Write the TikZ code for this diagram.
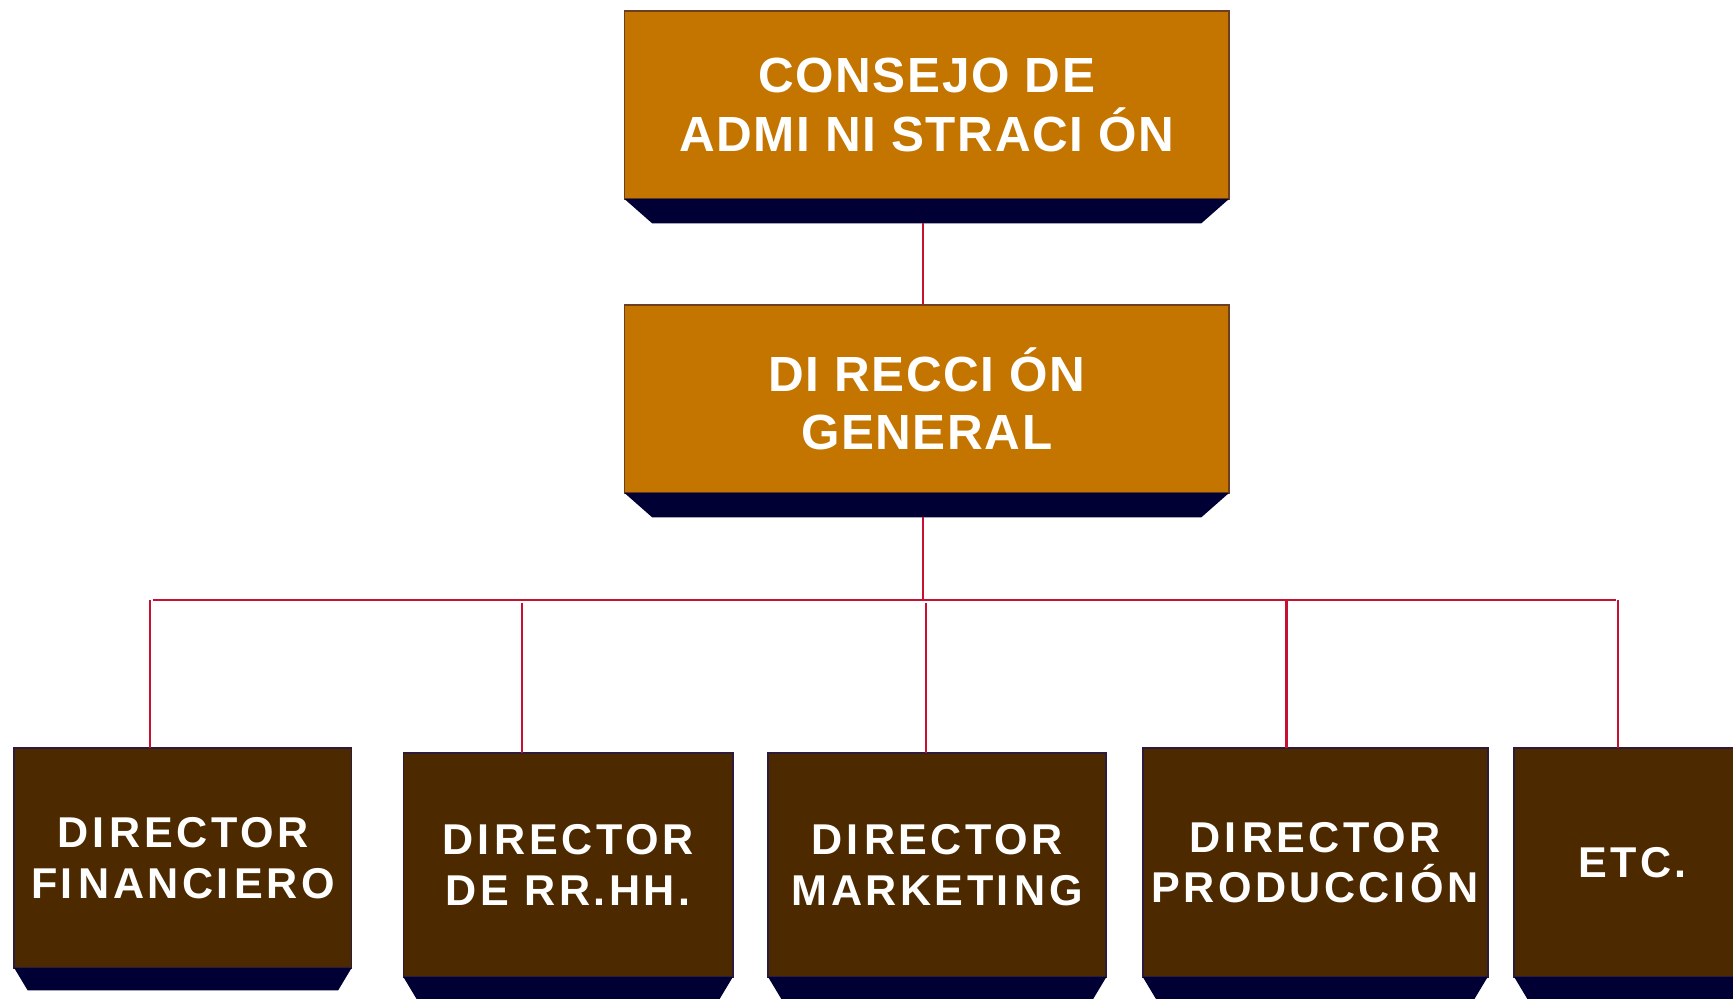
\documentclass[tikz,border=0pt]{standalone}
\usepackage{fontspec}
\newfontfamily\topfont[LetterSpace=3.3]{Liberation Sans}
\newfontfamily\lowfont[LetterSpace=8]{Liberation Sans}
\usetikzlibrary{calc}
\definecolor{topfill}{RGB}{196,117,0}
\definecolor{topedge}{RGB}{110,62,32}
\definecolor{lowfill}{RGB}{77,41,0}
\definecolor{lowedge}{RGB}{46,26,58}
\definecolor{shade}{RGB}{0,0,52}
\definecolor{conncol}{RGB}{200,16,50}
\newcommand{\Ik}{I\kern13.5pt}
\newcommand{\Il}{I\kern5pt}
\tikzset{
  topbox/.style={draw=topedge, line width=1.6pt, fill=topfill, rectangle, inner sep=0pt, outer sep=0pt,
    minimum width=547pt, minimum height=170pt, text=white, align=center,
    font=\topfont\bfseries\fontsize{44.7}{53}\selectfont},
  lowbox/.style={draw=lowedge, line width=1.6pt, fill=lowfill, rectangle, inner sep=0pt, outer sep=0pt,
    text=white, align=center, font=\lowfont\bfseries\fontsize{39}{46}\selectfont},
  shadebar/.style={fill=shade, draw=none},
  conn/.style={draw=conncol, line width=2pt}
}
\begin{document}
\begin{tikzpicture}[x=1pt,y=-1pt]
\useasboundingbox (0,0) rectangle (1568,903);
\fill[white] (0,0) rectangle (1568,903);

% top boxes
\node[topbox] (ca) at (838.5,95) {CONSEJO DE\\ADM\Ik N\Ik STRAC\Ik ÓN};
\node[topbox] (dg) at (838.5,361) {D\Ik RECC\Ik ÓN\\GENERAL};

% bottom boxes
\node[lowbox, minimum width=305pt, minimum height=199pt] (d1) at (165.5,776.5) {D\Il RECTOR\\F\Il NANC\Il ERO};
\node[lowbox, minimum width=298pt, minimum height=203pt] (d2) at (514,782.5) {D\Il RECTOR\\DE RR.HH.};
\node[lowbox, minimum width=306pt, minimum height=203pt] (d3) at (848,782.5) {D\Il RECTOR\\MARKET\Il NG};
\node[lowbox, minimum width=312pt, minimum height=207pt] (d4) at (1190,780.5) {D\Il RECTOR\\PRODUCC\Il ÓN};
\node[lowbox, minimum width=214pt, minimum height=207pt] (d5) at (1477,780.5) {ETC.};

% shadows
\foreach \n/\d in {ca/25,dg/25} {
  \fill[shadebar] (\n.south west) -- (\n.south east) -- ++(-\d,22) -- ($(\n.south west)+(\d,22)$) -- cycle;
}
\foreach \n in {d1,d2,d3,d4,d5} {
  \fill[shadebar] (\n.south west) -- (\n.south east) -- ++(-12,20) -- ($(\n.south west)+(12,20)$) -- cycle;
}

% connectors
\coordinate (caB) at ($(ca.south)+(-3.5,22)$);
\draw[conn] (caB) -- (caB |- dg.north);
\coordinate (dgB) at ($(dg.south)+(-3.5,22)$);
\coordinate (busL) at (138,543);
\coordinate (busR) at (1462,543);
\draw[conn] (dgB) -- (dgB |- busL);
\draw[conn] (busL) -- (busR);
\coordinate (b1) at (136,543);
\coordinate (b2) at (472,546);
\coordinate (b3) at (838,546);
\coordinate (b4) at (1164,543);
\coordinate (b5) at (1464,543);
\draw[conn] (b1) -- (b1 |- d1.north);
\draw[conn] (b2) -- (b2 |- d2.north);
\draw[conn] (b3) -- (b3 |- d3.north);
\draw[conn] (b4) -- (b4 |- d4.north);
\draw[conn] (b5) -- (b5 |- d5.north);
\end{tikzpicture}
\end{document}
